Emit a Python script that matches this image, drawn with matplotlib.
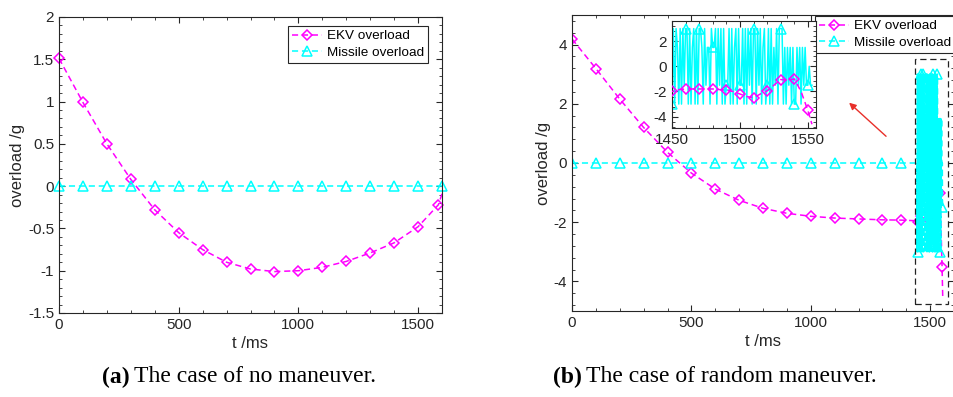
"""
Overload curves for EKV and missile: (a) no maneuver, (b) random maneuver.
"""

import numpy as np
import matplotlib
matplotlib.use("Agg")
import matplotlib.pyplot as plt
from matplotlib.patches import Rectangle
from matplotlib.ticker import AutoMinorLocator

plt.rcParams["font.family"] = ["Liberation Sans", "DejaVu Sans"]
plt.rcParams["axes.unicode_minus"] = False

# ---------------------------------------------------------------------------
# Data
# ---------------------------------------------------------------------------
# (a) no maneuver
T_A = [0, 100, 200, 300, 400, 500, 600, 700, 800, 900, 1000, 1100, 1200,
       1300, 1400, 1500, 1585, 1600]
EKV_A = [1.51, 0.99, 0.50, 0.08, -0.28, -0.55, -0.75, -0.90, -0.98, -1.01,
         -1.00, -0.96, -0.89, -0.79, -0.67, -0.48, -0.22, -0.09]
T_A_MISSILE = [0, 100, 200, 300, 400, 500, 600, 700, 800, 900, 1000, 1100,
               1200, 1300, 1400, 1500, 1600]
MISSILE_A = [0.0] * len(T_A_MISSILE)

# (b) random maneuver, coarse part
T_B = [0, 100, 200, 300, 400, 500, 600, 700, 800, 900, 1000, 1100, 1200,
       1300, 1380]
EKV_B = [4.19, 3.19, 2.16, 1.20, 0.36, -0.34, -0.88, -1.26, -1.53, -1.70,
         -1.80, -1.86, -1.89, -1.92, -1.93]
MISSILE_B = [0.0] * len(T_B)

# (b) end phase, EKV every 5 ms
T_B_EKV_END = [1440, 1445, 1450, 1455, 1460, 1465, 1470, 1475, 1480, 1485,
               1490, 1495, 1500, 1505, 1510, 1515, 1520, 1525, 1530, 1535,
               1540, 1545, 1550, 1553]
EKV_B_END = [-1.95, -1.97, -2.0, -1.85, -1.8, -1.8, -1.8, -1.8, -1.8, -1.85,
             -1.9, -2.0, -2.2, -2.4, -2.5, -2.2, -1.95, -1.5, -1.05, -1.1,
             -1.0, -2.0, -3.5, -4.6]

# (b) end phase, missile every 1 ms from 1441
MISSILE_B_END = [
    0, 0, 0, 0, -3, 3, -3, 0, 3,
    -3, 3, -3, 3, 1.5, -3, 3, -3, 3, -1.5,
    3, 3, -3, 3, -3, 1.5, 3, -3, 3, -3,
    3, 3, 1.5, -3, 3, -1.5, 1.5, 1.5, -3, 3,
    1.5, 1.5, 3, -3, 3, -1.5, 3, -3, 3, -3,
    -1.5, -1.5, 3, -3, 3, -3, 1.5, 3, -3, 3,
    -1.5, -1.5, 3, -3, 3, -3, 3, -1.5, 3, -3,
    3, 3, -3, 3, -1.5, 3, -3, 1.5, 3, -3,
    -1.5, 3, -3, 3, -3, 1.5, -1.5, 3, -3, 3,
    3, 3, -3, 1.5, -3, 1.5, -1.5, 1.5, -3, 1.5,
    -3, -3, 1.5, -1.5, 1.5, -3, 1.5, -1.5, 1.5, -1.5,
    -1.5, 0, -1.5, -1.5,
]
T_B_MISSILE_END = list(range(1441, 1441 + len(MISSILE_B_END)))

MAGENTA = "#ff00ff"
CYAN = "#00ffff"
AX_COLOR = "#262626"

EKV_STYLE = dict(color=MAGENTA, lw=1.1, dashes=(4, 2.5), marker="D",
                 mfc="none", mec=MAGENTA, ms=5.5, mew=1.1)
MIS_STYLE = dict(color=CYAN, lw=1.1, dashes=(4, 2.5), marker="^",
                 mfc="none", mec=CYAN, ms=6.5, mew=1.1)


def _style_axes(ax, fs=11):
    for s in ax.spines.values():
        s.set_color(AX_COLOR)
        s.set_linewidth(0.8)
    ax.tick_params(which="both", direction="in", top=True, right=True,
                   colors=AX_COLOR, labelsize=fs, labelcolor=AX_COLOR)
    ax.tick_params(which="major", length=4)
    ax.tick_params(which="minor", length=2)
    ax.xaxis.set_minor_locator(AutoMinorLocator(5))
    ax.yaxis.set_minor_locator(AutoMinorLocator(5))


def _legend(ax, x, y):
    leg = ax.legend(loc="upper left", bbox_to_anchor=(x / 954, 1 - y / 397),
                    bbox_transform=fig.transFigure, fontsize=9.7, frameon=True,
                    fancybox=False, edgecolor=AX_COLOR, handlelength=2.2,
                    borderpad=0.3, labelspacing=0.3, handletextpad=0.4,
                    borderaxespad=0, framealpha=1)
    leg.get_frame().set_linewidth(0.8)
    return leg


fig = plt.figure(figsize=(9.54, 3.97), dpi=100)

# ---------------------------------------------------------------------------
# (a)
# ---------------------------------------------------------------------------
ax_a = fig.add_axes([59 / 954, 1 - 313 / 397, 383 / 954, 296 / 397])
ax_a.plot(T_A, EKV_A, label="EKV overload",
          markevery=list(range(len(T_A) - 1)), clip_on=False, **EKV_STYLE)
ax_a.plot(T_A_MISSILE, MISSILE_A, label="Missile overload", clip_on=False,
          **MIS_STYLE)
ax_a.set_xlim(0, 1600)
ax_a.set_ylim(-1.5, 2)
ax_a.set_xticks([0, 500, 1000, 1500])
ax_a.set_yticks([-1.5, -1, -0.5, 0, 0.5, 1, 1.5, 2])
ax_a.set_yticklabels(["-1.5", "-1", "-0.5", "0", "0.5", "1", "1.5", "2"])
_style_axes(ax_a)
ax_a.set_xlabel("t /ms", fontsize=12, color=AX_COLOR, labelpad=3)
ax_a.set_ylabel("overload /g", fontsize=12, color=AX_COLOR, labelpad=2)
_legend(ax_a, 288, 26)

# ---------------------------------------------------------------------------
# (b)
# ---------------------------------------------------------------------------
ax_b = fig.add_axes([572 / 954, 1 - 311 / 397, 382 / 954, 296 / 397])
t_ekv = T_B + T_B_EKV_END
y_ekv = EKV_B + EKV_B_END
ekv_marks = list(range(len(T_B))) + list(range(len(T_B) + 2, len(t_ekv) - 1, 2))
ax_b.plot(t_ekv, y_ekv, label="EKV overload", markevery=ekv_marks, **EKV_STYLE)
t_mis = T_B + T_B_MISSILE_END
y_mis = MISSILE_B + MISSILE_B_END
mis_marks = list(range(len(T_B))) + list(range(len(T_B) + 9, len(t_mis), 10))
ax_b.plot(t_mis, y_mis, label="Missile overload", markevery=mis_marks,
          **MIS_STYLE)
ax_b.set_xlim(0, 1600)
ax_b.set_ylim(-5, 5)
ax_b.set_xticks([0, 500, 1000, 1500])
ax_b.set_yticks([-4, -2, 0, 2, 4])
_style_axes(ax_b)
ax_b.set_xlabel("t /ms", fontsize=12, color=AX_COLOR, labelpad=3)
ax_b.set_ylabel("overload /g", fontsize=12, color=AX_COLOR, labelpad=2)
_legend(ax_b, 815, 16)

# zoom box and arrow
ax_b.add_patch(Rectangle((1435, -4.75), 140, 8.25, fill=False,
                         ec="#222222", lw=0.9, ls=(0, (5, 3)), zorder=5))
ax_b.annotate("", xy=(1152, 2.1), xytext=(1324, 0.84),
              arrowprops=dict(arrowstyle="-|>", color="#e8302a", lw=1.0,
                              mutation_scale=10))

# inset
ax_in = fig.add_axes([672 / 954, 1 - 128 / 397, 144 / 954, 107 / 397])
ax_in.plot(T_B_MISSILE_END, MISSILE_B_END, color=CYAN, lw=1.1,
           marker="^", mfc="none", mec=CYAN, ms=6.5, mew=1.1,
           markevery=slice(9, None, 10), zorder=2)
ax_in.plot(T_B_EKV_END, EKV_B_END, color=MAGENTA, lw=1.1, dashes=(4, 2.5),
           marker="D", mfc="none", mec=MAGENTA, ms=5.5, mew=1.1,
           markevery=list(range(2, len(T_B_EKV_END) - 1, 2)), zorder=3)
ax_in.set_xlim(1450, 1556)
ax_in.set_ylim(-4.9, 3.6)
ax_in.set_xticks([1450, 1500, 1550])
ax_in.set_yticks([-4, -2, 0, 2])
_style_axes(ax_in)

# ---------------------------------------------------------------------------
# captions
# ---------------------------------------------------------------------------
cap = dict(fontsize=17, family="Liberation Serif", va="center", color="black")
fig.text(130 / 954, 1 - 377 / 397, "(a)", ha="right", weight="bold", **cap)
fig.text(134 / 954, 1 - 377 / 397, "The case of no maneuver.", ha="left", **cap)
fig.text(582 / 954, 1 - 377 / 397, "(b)", ha="right", weight="bold", **cap)
fig.text(586 / 954, 1 - 377 / 397, "The case of random maneuver.", ha="left", **cap)

fig.savefig("out.png", dpi=100)
